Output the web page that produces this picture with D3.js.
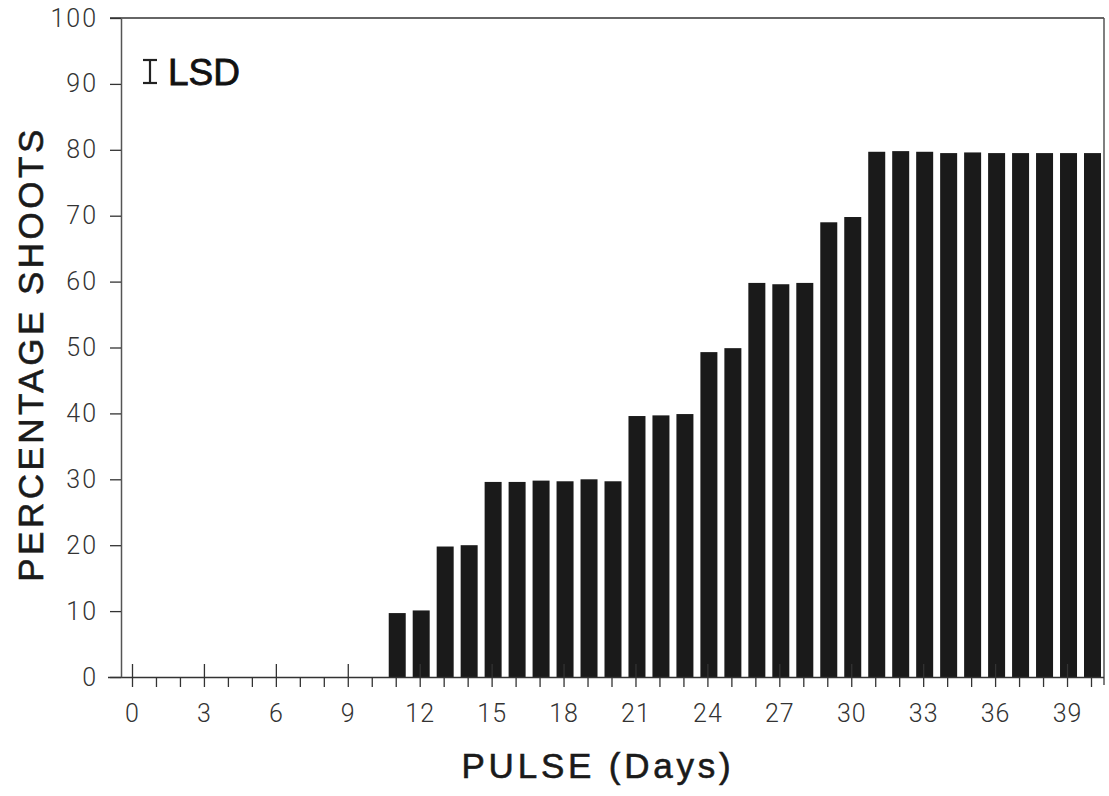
<!DOCTYPE html>
<html><head><meta charset="utf-8">
<script src="https://cdn.jsdelivr.net/npm/d3@7"></script>
<style>
body{margin:0;background:#fff;}
svg{display:block;}
</style></head>
<body>
<svg id="chart" width="1109" height="796"></svg>
<script>
// ---- data ----
const days = [11,12,13,14,15,16,17,18,19,20,21,22,23,24,25,26,27,28,29,30,31,32,33,34,35,36,37,38,39,40];
const shoots = [9.7,10.1,19.8,20.0,29.6,29.6,29.8,29.7,30.0,29.7,39.6,39.7,39.9,49.3,49.9,59.8,59.6,59.8,69.0,69.8,79.7,79.8,79.7,79.5,79.6,79.5,79.5,79.5,79.5,79.5];
const xTickValues = d3.range(0, 41);
const xLabelValues = [0,3,6,9,12,15,18,21,24,27,30,33,36,39];
const yTickValues = [0,10,20,30,40,50,60,70,80,90,100];
const xTitle = "PULSE (Days)";
const yTitle = "PERCENTAGE SHOOTS";
const legendText = "LSD";

const svg = d3.select("#chart");
const x = d3.scaleLinear().domain([0, 40]).range([132, 1091]);
const y = d3.scaleLinear().domain([0, 100]).range([677, 18]);
const axisLeftX = 121, rightX = 1104;
const titleFont = "'Liberation Sans', Arial, sans-serif";
const tickFont = "Roboto, 'Liberation Sans', sans-serif";

// bars
svg.append("g").selectAll("rect").data(days).join("rect")
  .attr("x", (d) => x(d) + 1.5 - 8.5)
  .attr("width", 17)
  .attr("y", (d, i) => y(shoots[i]))
  .attr("height", (d, i) => y(0) - y(shoots[i]))
  .attr("fill", "#1a1a1a");

// frame: top and right
svg.append("line").attr("x1", 110).attr("x2", rightX).attr("y1", y(100)).attr("y2", y(100))
  .attr("stroke", "#333").attr("stroke-width", 1.5);
svg.append("line").attr("x1", rightX).attr("x2", rightX).attr("y1", y(100)).attr("y2", y(0) + 8)
  .attr("stroke", "#555").attr("stroke-width", 1.5);

// x axis
const xAxis = d3.axisBottom(x).tickValues(xTickValues).tickSize(10).tickSizeOuter(0)
  .tickFormat(d => xLabelValues.includes(d) ? d : "");
const gx = svg.append("g").attr("transform", `translate(0,${y(0)})`).call(xAxis);
gx.select(".domain").attr("d", `M108,0.5H${rightX}`).attr("stroke", "#333").attr("stroke-width", 1.5);
gx.selectAll(".tick line")
  .attr("stroke", "#333").attr("stroke-width", 1.3)
  .attr("y1", d => xLabelValues.includes(d) ? -13 : 0);
gx.selectAll(".tick text")
  .attr("y", 27).attr("dy", "0.71em")
  .attr("font-family", tickFont).attr("font-weight", 300).attr("font-size", 25).attr("fill", "#333")
  .attr("letter-spacing", 1);

// y axis
const yAxis = d3.axisLeft(y).tickValues(yTickValues).tickSize(11).tickSizeOuter(0).tickPadding(12);
const gy = svg.append("g").attr("transform", `translate(${axisLeftX},0)`).call(yAxis);
gy.select(".domain").attr("stroke", "#555").attr("stroke-width", 1.5);
gy.selectAll(".tick line").attr("stroke", "#333").attr("stroke-width", 1.3);
gy.selectAll(".tick text")
  .attr("font-family", tickFont).attr("font-weight", 300).attr("font-size", 25).attr("fill", "#333")
  .attr("letter-spacing", 2);

// axis titles
svg.append("text").attr("x", 598).attr("y", 778).attr("text-anchor", "middle")
  .attr("font-family", titleFont).attr("font-size", 35).attr("letter-spacing", 3.8)
  .attr("fill", "#1a1a1a").attr("stroke", "#1a1a1a").attr("stroke-width", 0.6)
  .text(xTitle);
svg.append("text").attr("transform", "translate(43,354) rotate(-90)").attr("text-anchor", "middle")
  .attr("font-family", titleFont).attr("font-size", 35).attr("letter-spacing", 3.5)
  .attr("fill", "#1a1a1a").attr("stroke", "#1a1a1a").attr("stroke-width", 0.6)
  .text(yTitle);

// LSD legend symbol (I-beam) and text
const lg = svg.append("g").attr("stroke", "#222").attr("stroke-width", 2.2);
lg.append("line").attr("x1", 150).attr("x2", 150).attr("y1", 60).attr("y2", 83);
lg.append("line").attr("x1", 143).attr("x2", 157).attr("y1", 60).attr("y2", 60);
lg.append("line").attr("x1", 143).attr("x2", 157).attr("y1", 83).attr("y2", 83);
svg.append("text").attr("x", 168).attr("y", 85)
  .attr("font-family", titleFont).attr("font-size", 37)
  .attr("fill", "#111").attr("stroke", "#111").attr("stroke-width", 0.8)
  .text(legendText);
</script>
</body></html>
